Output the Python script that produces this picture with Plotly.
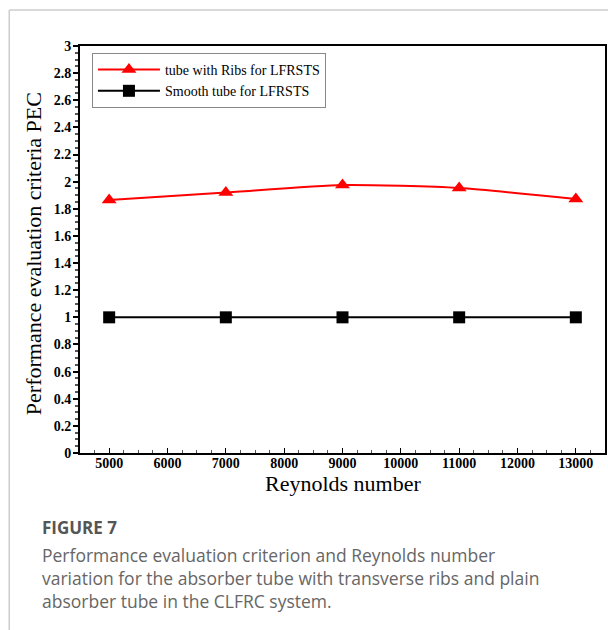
import plotly.graph_objects as go

# Reynolds numbers tested
reynolds = [5000, 7000, 9000, 11000, 13000]
# Performance evaluation criterion for each tube
pec_ribs = [1.865, 1.92, 1.975, 1.953, 1.872]
pec_smooth = [1.0, 1.0, 1.0, 1.0, 1.0]

y_tick_vals = [0, 0.2, 0.4, 0.6, 0.8, 1, 1.2, 1.4, 1.6, 1.8, 2, 2.2, 2.4, 2.6, 2.8, 3]
y_tick_text = ["0", "0.2", "0.4", "0.6", "0.8", "1", "1.2", "1.4", "1.6", "1.8",
               "2", "2.2", "2.4", "2.6", "2.8", "3"]
x_tick_vals = [5000, 6000, 7000, 8000, 9000, 10000, 11000, 12000, 13000]
x_tick_text = ["5000", "6000", "7000", "8000", "9000", "10000", "11000", "12000", "13000"]

serif = "Liberation Serif"

fig = go.Figure()
fig.add_trace(go.Scatter(
    x=reynolds, y=pec_ribs, mode="lines+markers",
    name="tube with Ribs for LFRSTS",
    line=dict(color="#ff0000", width=2, shape="spline", smoothing=0.6),
    marker=dict(symbol="triangle-up", size=13, color="#ff0000"),
))
fig.add_trace(go.Scatter(
    x=reynolds, y=pec_smooth, mode="lines+markers",
    name="Smooth tube for LFRSTS",
    line=dict(color="#000000", width=2),
    marker=dict(symbol="square", size=12, color="#000000"),
))

L, R, T, B = 80, 1, 46, 177
W, H = 608, 630
pw, ph = W - L - R, H - T - B


def px(x):
    return (x - L) / pw


def py(y):
    return 1 - (y - T) / ph


fig.update_layout(
    width=W, height=H,
    margin=dict(l=L, r=R, t=T, b=B),
    paper_bgcolor="white", plot_bgcolor="white",
    showlegend=True,
    legend=dict(
        x=px(92), y=py(53), xanchor="left", yanchor="top",
        bgcolor="white", bordercolor="#888888", borderwidth=1,
        font=dict(family=serif, size=14, color="black"),
        tracegroupgap=0, itemwidth=62,
    ),
    xaxis=dict(
        range=[4500, 13500], tickvals=x_tick_vals, ticktext=x_tick_text,
        showgrid=False, zeroline=False,
        showline=True, linecolor="black", linewidth=2, mirror=True,
        ticks="inside", ticklen=5, tickcolor="black", tickwidth=1,
        minor=dict(dtick=250, tick0=4500, ticks="inside", ticklen=3, tickcolor="#555555"),
        tickfont=dict(family=serif, size=14, color="black", weight="bold"),
        ticklabelstandoff=-4,
    ),
    yaxis=dict(
        range=[0, 3], tickvals=y_tick_vals, ticktext=y_tick_text,
        showgrid=False, zeroline=False,
        showline=True, linecolor="black", linewidth=2, mirror=True,
        ticks="outside", ticklen=5, tickcolor="black", tickwidth=2,
        minor=dict(dtick=0.05, ticks="outside", ticklen=3, tickcolor="#555555"),
        tickfont=dict(family=serif, size=14, color="black", weight="bold"),
        ticklabelstandoff=-1,
    ),
    shapes=[
        dict(type="line", xref="paper", yref="paper",
             x0=px(9), x1=px(612), y0=py(10), y1=py(10),
             line=dict(color="#cccccc", width=1.5)),
        dict(type="line", xref="paper", yref="paper",
             x0=px(9), x1=px(9), y0=py(10), y1=py(635),
             line=dict(color="#cccccc", width=1.5)),
    ],
    annotations=[
        dict(xref="paper", yref="paper", x=px(344), y=py(484), xanchor="center", yanchor="middle",
             text="Reynolds number", showarrow=False,
             font=dict(family=serif, size=22, color="black")),
        dict(xref="paper", yref="paper", x=px(33), y=py(254), xanchor="center", yanchor="middle",
             text="Performance evaluation criteria PEC", showarrow=False, textangle=-90,
             font=dict(family=serif, size=22, color="black")),
        dict(xref="paper", yref="paper", x=px(40), y=py(527), xanchor="left", yanchor="middle",
             text="<b>FIGURE 7</b>", showarrow=False,
             font=dict(family="Open Sans", size=17, color="#555555")),
        dict(xref="paper", yref="paper", x=px(40), y=py(578), xanchor="left", yanchor="middle",
             align="left", showarrow=False,
             text="Performance evaluation criterion and Reynolds number<br>"
                  "variation for the absorber tube with transverse ribs and plain<br>"
                  "absorber tube in the CLFRC system.",
             font=dict(family="Open Sans", size=17.5, color="#666666")),
    ],
)

fig.write_html("out.html")
